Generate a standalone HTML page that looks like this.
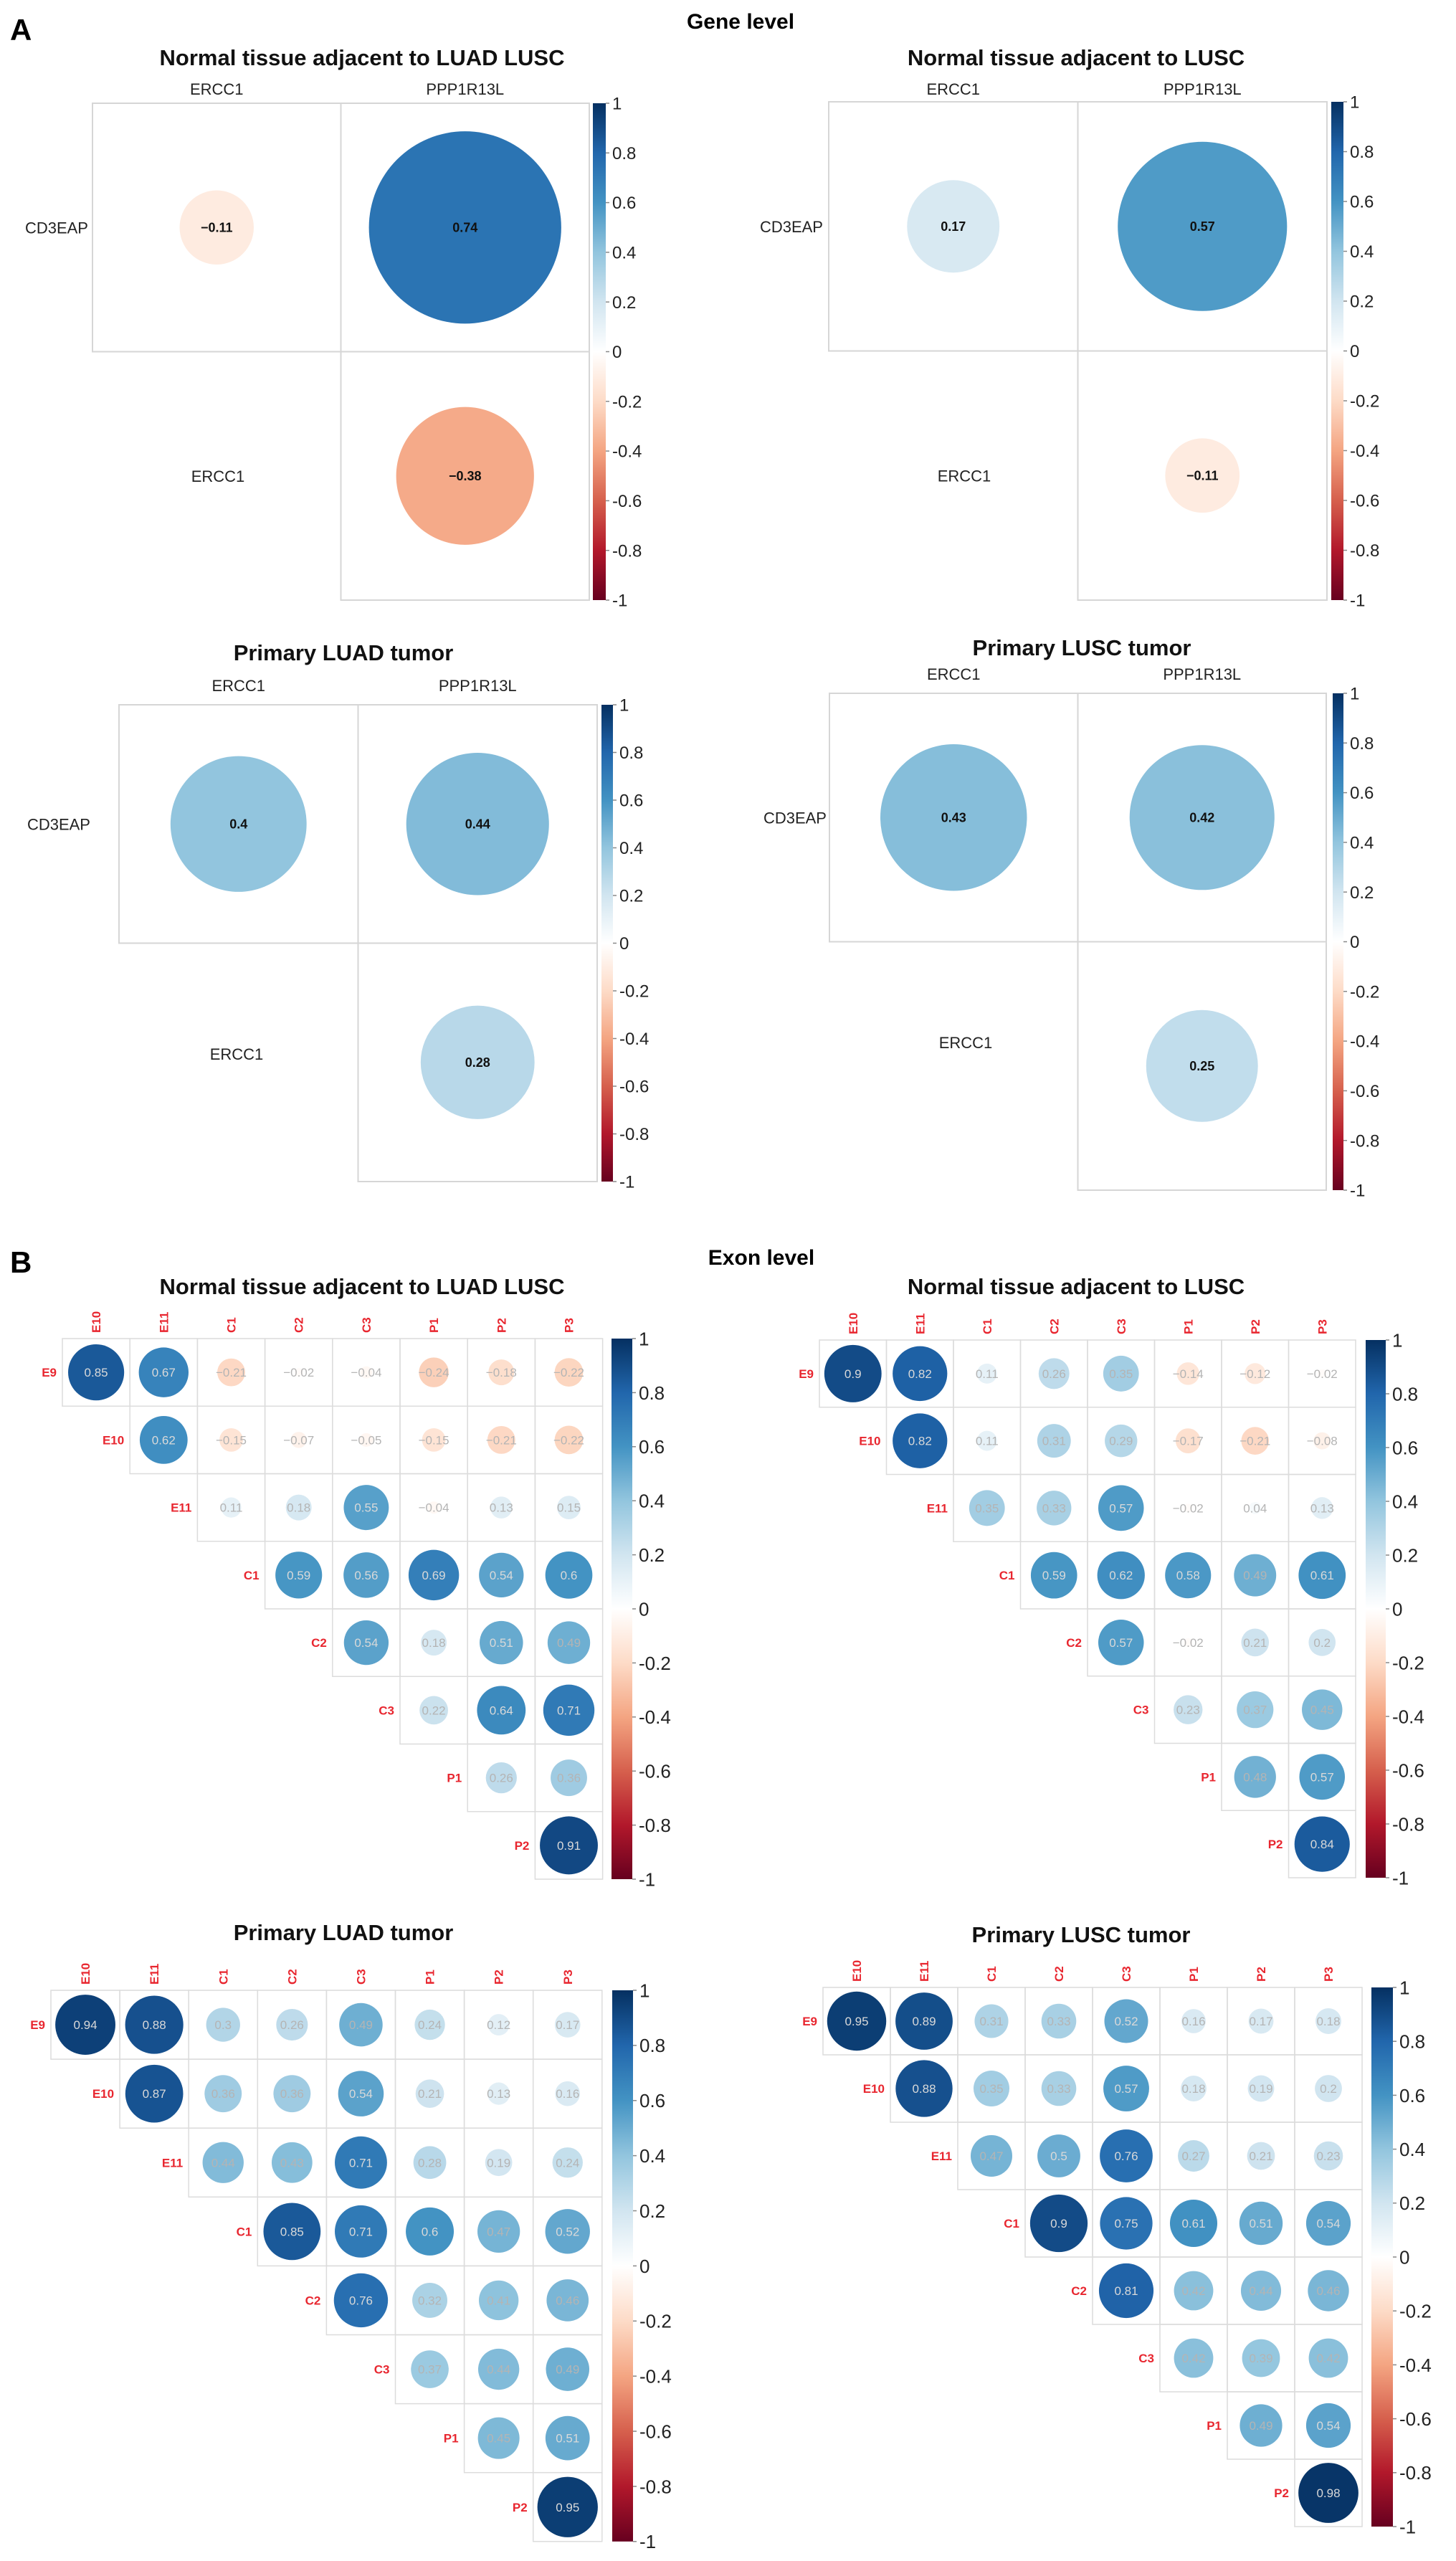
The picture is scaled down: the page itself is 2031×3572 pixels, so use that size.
<!DOCTYPE html>
<html><head><meta charset="utf-8"><title>Gene and exon level correlation plots</title>
<style>
html,body{margin:0;padding:0;background:#fff;}
svg{display:block;font-family:"Liberation Sans",sans-serif;}
</style></head>
<body>
<svg id="fig" width="2031" height="3572" viewBox="0 0 2031 3572" xmlns="http://www.w3.org/2000/svg">
<defs>
<linearGradient id="rdbu" x1="0" y1="0" x2="0" y2="1">
<stop offset="0" stop-color="#053061"/><stop offset="0.1" stop-color="#2166AC"/><stop offset="0.2" stop-color="#4393C3"/><stop offset="0.3" stop-color="#92C5DE"/><stop offset="0.4" stop-color="#D1E5F0"/><stop offset="0.5" stop-color="#FFFFFF"/><stop offset="0.6" stop-color="#FDDBC7"/><stop offset="0.7" stop-color="#F4A582"/><stop offset="0.8" stop-color="#D6604D"/><stop offset="0.9" stop-color="#B2182B"/><stop offset="1" stop-color="#67001F"/>
</linearGradient>
</defs>
<text x="14" y="56" font-size="42" font-weight="bold">A</text>
<text x="1033" y="40" font-size="30" font-weight="bold" text-anchor="middle">Gene level</text>
<text x="14" y="1775" font-size="42" font-weight="bold">B</text>
<text x="1062" y="1764" font-size="30" font-weight="bold" text-anchor="middle">Exon level</text>
</svg>
<script>
// ---- data ----
const geneRows = ["CD3EAP", "ERCC1"];
const geneCols = ["ERCC1", "PPP1R13L"];
const geneNormalLuadLusc = [-0.11, 0.74, -0.38];
const geneNormalLusc = [0.17, 0.57, -0.11];
const genePrimaryLuad = [0.4, 0.44, 0.28];
const genePrimaryLusc = [0.43, 0.42, 0.25];

const exonRows = ["E9", "E10", "E11", "C1", "C2", "C3", "P1", "P2"];
const exonCols = ["E10", "E11", "C1", "C2", "C3", "P1", "P2", "P3"];
const exonNormalLuadLusc = [
  [0.85, 0.67, -0.21, -0.02, -0.04, -0.24, -0.18, -0.22],
  [0.62, -0.15, -0.07, -0.05, -0.15, -0.21, -0.22],
  [0.11, 0.18, 0.55, -0.04, 0.13, 0.15],
  [0.59, 0.56, 0.69, 0.54, 0.6],
  [0.54, 0.18, 0.51, 0.49],
  [0.22, 0.64, 0.71],
  [0.26, 0.36],
  [0.91]
];
const exonNormalLusc = [
  [0.9, 0.82, 0.11, 0.26, 0.35, -0.14, -0.12, -0.02],
  [0.82, 0.11, 0.31, 0.29, -0.17, -0.21, -0.08],
  [0.35, 0.33, 0.57, -0.02, 0.04, 0.13],
  [0.59, 0.62, 0.58, 0.49, 0.61],
  [0.57, -0.02, 0.21, 0.2],
  [0.23, 0.37, 0.45],
  [0.48, 0.57],
  [0.84]
];
const exonPrimaryLuad = [
  [0.94, 0.88, 0.3, 0.26, 0.49, 0.24, 0.12, 0.17],
  [0.87, 0.36, 0.36, 0.54, 0.21, 0.13, 0.16],
  [0.44, 0.43, 0.71, 0.28, 0.19, 0.24],
  [0.85, 0.71, 0.6, 0.47, 0.52],
  [0.76, 0.32, 0.41, 0.46],
  [0.37, 0.44, 0.49],
  [0.45, 0.51],
  [0.95]
];
const exonPrimaryLusc = [
  [0.95, 0.89, 0.31, 0.33, 0.52, 0.16, 0.17, 0.18],
  [0.88, 0.35, 0.33, 0.57, 0.18, 0.19, 0.2],
  [0.47, 0.5, 0.76, 0.27, 0.21, 0.23],
  [0.9, 0.75, 0.61, 0.51, 0.54],
  [0.81, 0.42, 0.44, 0.46],
  [0.42, 0.39, 0.42],
  [0.49, 0.54],
  [0.98]
];
const cbarTicks = [1, 0.8, 0.6, 0.4, 0.2, 0, -0.2, -0.4, -0.6, -0.8, -1];

// ---- helpers ----
const NS = "http://www.w3.org/2000/svg";
const svg = document.getElementById("fig");
const stops = ["#67001F","#B2182B","#D6604D","#F4A582","#FDDBC7","#FFFFFF","#D1E5F0","#92C5DE","#4393C3","#2166AC","#053061"];
function hex(c){return [parseInt(c.slice(1,3),16),parseInt(c.slice(3,5),16),parseInt(c.slice(5,7),16)];}
function colorOf(v){
  const t=(v+1)/2*10; const i=Math.min(9,Math.floor(t)); const f=t-i;
  const a=hex(stops[i]), b=hex(stops[i+1]);
  return "rgb("+a.map((x,k)=>Math.round(x+(b[k]-x)*f)).join(",")+")";
}
function mk(tag, attrs, parent){
  const e=document.createElementNS(NS,tag);
  for(const k in attrs) e.setAttribute(k, attrs[k]);
  (parent||svg).appendChild(e); return e;
}
function txt(x,y,s,size,opts,parent){
  const t=mk("text",Object.assign({x:x,y:y,"font-size":size},opts||{}),parent);
  t.textContent=s; return t;
}
function fmt(v){let s=String(v); return v<0? "\u2212"+s.slice(1):s;}

function colorbar(g, x0, x1, y0, y1, fontSize){
  const cb=mk("g",{},g);
  
  
  mk("rect",{x:x0,y:y0,width:x1-x0,height:y1-y0,fill:"url(#rdbu)"},cb);
  cbarTicks.forEach(v=>{
    const y=y0+(1-v)/2*(y1-y0);
    mk("line",{x1:x1,x2:x1+5,y1:y,y2:y,stroke:"#888","stroke-width":1.5},cb);
    const t=txt(x1+9,y+fontSize*0.36,String(v),fontSize,{fill:"#222"},cb);
    
    
  });
}

function genePanel(p, vals){
  const g=mk("g",{});
  
  
  const tt=txt(p.tx,p.ty,p.title,31,{"font-weight":"bold","text-anchor":"middle",fill:"#111"},g);
  
  
  const cells=[[0,0],[0,1],[1,1]];
  cells.forEach(([r,c],k)=>{
    const x=p.x0+c*p.cw, y=p.y0+r*p.ch;
    const rect=mk("rect",{x:x,y:y,width:p.cw,height:p.ch,fill:"none",stroke:"#d6d6d6","stroke-width":2},g);
    
    
  });
  cells.forEach(([r,c],k)=>{
    const v=vals[k];
    const cx=p.x0+(c+0.5)*p.cw, cy=p.y0+(r+0.5)*p.ch;
    const rad=0.9*Math.sqrt(Math.abs(v));
    const el=mk("ellipse",{cx:cx,cy:cy,rx:rad*p.cw/2,ry:rad*p.ch/2,fill:colorOf(v)},g);
    
    
    const t=txt(cx,cy+6,fmt(v),18,{"font-weight":"bold","text-anchor":"middle",fill:"#111"},g);
    
    
  });
  geneCols.forEach((c,i)=>{
    const t=txt(p.x0+(i+0.5)*p.cw,p.cy,c,22,{"text-anchor":"middle",fill:"#222"},g);
    
    
  });
  const r0=txt(p.rx,p.y0+p.ch*0.5+8,geneRows[0],22,{"text-anchor":"end",fill:"#222"},g);
  
  
  const r1=txt(p.r2x,p.y0+p.ch*1.5+8+p.r2dy,geneRows[1],22,{"text-anchor":"middle",fill:"#222"},g);
  
  
  colorbar(g,p.cb0,p.cb1,p.y0,p.y0+2*p.ch,24);
}

function exonPanel(p, vals){
  const g=mk("g",{});
  
  
  const tt=txt(p.tx,p.ty,p.title,31,{"font-weight":"bold","text-anchor":"middle",fill:"#111"},g);
  
  
  for(let r=0;r<8;r++){
    for(let c=r;c<8;c++){
      const rect=mk("rect",{x:p.x0+c*p.cw,y:p.y0+r*p.ch,width:p.cw,height:p.ch,fill:"none",stroke:"#dcdcdc","stroke-width":1.5},g);
      
      
    }
  }
  vals.forEach((row,r)=>{
    row.forEach((v,k)=>{
      const c=r+k;
      const cx=p.x0+(c+0.5)*p.cw, cy=p.y0+(r+0.5)*p.ch;
      const rad=0.9*Math.sqrt(Math.abs(v));
      const el=mk("ellipse",{cx:cx,cy:cy,rx:rad*p.cw/2,ry:rad*p.ch/2,fill:colorOf(v)},g);
      
      
      const t=txt(cx,cy+6,fmt(v),17,{"text-anchor":"middle",fill:Math.abs(v)>=0.5?"#d9d9d9":"#b4b4b4"},g);
      
      
    });
  });
  exonCols.forEach((c,i)=>{
    const x=p.x0+(i+0.5)*p.cw+6, y=p.y0-8;
    const t=txt(x,y,c,17,{"font-weight":"bold",fill:"#e8262f",transform:"rotate(-90 "+x+" "+y+")"},g);
    
    
  });
  exonRows.forEach((rname,i)=>{
    const t=txt(p.x0+i*p.cw-8,p.y0+(i+0.5)*p.ch+6,rname,17,{"font-weight":"bold","text-anchor":"end",fill:"#e8262f"},g);
    
    
  });
  colorbar(g,p.cb0,p.cb1,p.y0,p.y0+8*p.ch,26);
}

genePanel({name:"gene-normal-luad-lusc",title:"Normal tissue adjacent to LUAD LUSC",tx:505,ty:91,x0:129,y0:144,cw:346.5,ch:346.5,cy:132,rx:123,r2x:304,r2dy:0,cb0:827,cb1:845}, geneNormalLuadLusc);
genePanel({name:"gene-normal-lusc",title:"Normal tissue adjacent to LUSC",tx:1501,ty:91,x0:1156,y0:142,cw:347.5,ch:347.5,cy:132,rx:1148,r2x:1345,r2dy:0,cb0:1857,cb1:1874}, geneNormalLusc);
genePanel({name:"gene-primary-luad",title:"Primary LUAD tumor",tx:479,ty:921,x0:166,y0:983,cw:333.5,ch:332.5,cy:964,rx:126,r2x:330,r2dy:-12,cb0:839,cb1:855}, genePrimaryLuad);
genePanel({name:"gene-primary-lusc",title:"Primary LUSC tumor",tx:1509,ty:914,x0:1157,y0:967,cw:346.5,ch:346.5,cy:948,rx:1153,r2x:1347,r2dy:-33,cb0:1859,cb1:1874}, genePrimaryLusc);

exonPanel({name:"exon-normal-luad-lusc",title:"Normal tissue adjacent to LUAD LUSC",tx:505,ty:1805,x0:87,y0:1867,cw:94.2,ch:94.25,cb0:853,cb1:882}, exonNormalLuadLusc);
exonPanel({name:"exon-normal-lusc",title:"Normal tissue adjacent to LUSC",tx:1501,ty:1805,x0:1143,y0:1869,cw:93.5,ch:93.75,cb0:1905,cb1:1933}, exonNormalLusc);
exonPanel({name:"exon-primary-luad",title:"Primary LUAD tumor",tx:479,ty:2706,x0:71,y0:2776,cw:96.1,ch:96.1,cb0:854,cb1:883}, exonPrimaryLuad);
exonPanel({name:"exon-primary-lusc",title:"Primary LUSC tumor",tx:1508,ty:2709,x0:1148,y0:2772,cw:94,ch:94,cb0:1913,cb1:1943}, exonPrimaryLusc);
</script>
</body></html>
